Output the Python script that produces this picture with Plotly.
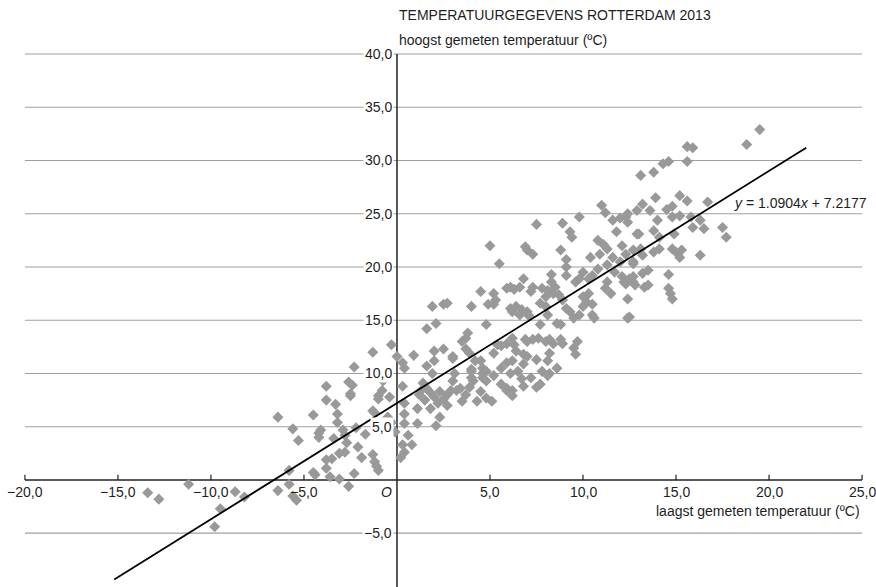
import plotly.graph_objects as go

# (laagst, hoogst) day values
meetpunten = [
    (-13.4,-1.2),(-12.8,-1.8),(-11.2,-0.4),(-8.7,-1.1),(-8.2,-1.6),(-9.5,-2.7),(-9.8,-4.4),
    (-5.8,0.9),(-5.8,-0.4),(-6.4,-1.0),(-5.6,-1.5),(-5.4,-1.9),(-4.5,0.7),(-4.4,0.5),(-3.8,1.1),
    (-3.8,1.9),(-3.5,2.0),(-3.6,0.3),(-3.1,0.1),(-3.1,2.5),(-2.8,2.6),(-2.6,-0.6),(-2.3,0.6),
    (-1.9,2.1),(-1.3,2.4),(-1.2,1.7),(-1.1,1.3),(-1.0,0.9),(0.2,2.1),(0.4,2.6),
    (-6.4,5.9),(-5.6,4.8),(-5.3,3.7),
    (-4.5,6.1),(-3.8,8.8),(-3.8,7.5),(-3.3,7.1),(-3.2,6.2),(-3.2,5.4),(-4.1,4.7),(-4.2,4.0),
    (-2.9,4.7),(-2.8,4.2),(-3.4,3.9),(-2.7,3.5),(-2.5,7.9),(-2.6,9.2),(-2.4,8.9),(-2.2,4.9),
    (-2.1,3.1),(-1.7,4.3),(-1.2,6.3),(-1.0,7.9),(-0.8,8.4),(-0.4,7.8),(-0.5,5.9),(-0.3,5.4),
    (-0.5,4.8),(-0.1,4.5),(-0.75,9.3),(0.3,8.8),(0.4,6.2),(0.4,5.3),(0.3,3.3),
    (-4.2,4.4),(-2.5,8.1),(-2.3,10.6),(-1.3,12.0),(-1.3,6.5),(-1.0,7.6),(-0.3,12.7),(0.0,11.6),
    (0.3,11.0),(0.4,10.5),(0.4,7.2),(0.6,4.2),(0.8,3.3),(0.9,11.7),(1.1,6.7),(1.1,5.3),
    (1.4,9.1),(1.3,8.4),(1.6,10.7),(1.6,14.2),(1.9,16.3),(2.1,14.7),(2.0,12.1),(2.0,11.2),(1.9,10.0),
    (1.2,8.0),(1.5,7.5),(1.8,8.2),(2.0,7.8),(2.3,8.3),(2.5,7.6),(2.7,8.0),(2.2,7.2),(1.6,8.6),(2.9,8.4),
    (1.8,6.7),(2.3,5.9),(2.1,5.1),(2.5,16.5),(2.7,16.6),(2.5,12.3),(3.0,11.6),(3.1,10.0),(3.0,9.3),
    (3.2,8.4),(3.5,7.4),(3.7,12.3),(3.5,13.0),(3.8,13.8),(3.9,11.9),(4.0,16.3),(4.0,10.4),(4.0,9.6),
    (3.9,8.7),(4.2,11.2),(4.5,11.2),(4.6,10.5),(4.8,14.6),(4.9,16.5),(4.5,17.7),
    (3.4,8.6),(5.9,8.6),(8.1,9.8),(2.7,7.0),(4.3,7.4),(4.8,7.7),(4.5,8.3),(3.7,8.0),(4.6,10.0),(4.8,9.3),
    (11.0,25.8),(11.2,25.1),(11.6,24.4),(12.4,25.0),(12.4,24.2),(12.0,24.6),(12.9,25.3),(12.9,23.1),
    (11.8,23.3),(9.8,24.7),(8.9,24.1),(7.5,24.0),(9.3,23.3),(9.4,22.8),(5.0,22.0),(6.9,21.9),
    (7.0,21.6),(7.3,21.2),(8.8,21.6),(9.1,20.7),(10.4,20.9),(10.8,22.5),(11.1,22.1),(11.3,21.7),
    (10.9,21.2),(11.6,20.9),(12.1,22.0),(12.3,21.2),(12.7,21.6),(12.0,20.5),(11.3,20.2),(10.8,19.8),
    (10.5,19.2),(10.3,18.9),(10.0,19.5),(9.8,18.9),(9.6,18.6),(9.1,20.0),(9.1,19.2),(8.3,19.3),
    (8.3,18.6),(8.5,18.1),(8.1,17.8),(8.4,17.5),(8.7,17.4),(8.9,16.9),(7.8,18.0),(8.0,17.2),
    (7.7,16.6),(8.0,16.3),(8.1,15.5),(8.6,14.7),(8.8,14.6),(7.7,14.6),(7.3,18.1),(7.2,17.7),
    (6.8,18.9),(6.6,18.1),(6.3,17.9),(6.1,18.1),(5.9,18.0),(5.2,17.5),(5.3,16.9),(5.5,20.3),
    (5.2,16.5),(6.1,16.1),(6.2,15.8),(6.4,16.3),(6.7,16.0),(6.6,15.5),(7.0,15.8),(7.1,15.4),
    (9.1,16.1),(9.3,15.8),(9.5,15.2),(9.8,15.5),(10.0,16.3),(10.2,16.7),(10.5,16.5),(10.5,15.5),
    (10.6,15.2),(10.3,17.5),(10.0,17.2),(11.3,18.6),(11.2,18.0),(11.5,17.5),(11.7,19.5),(12.1,19.1),
    (12.2,18.6),(12.5,18.9),(12.7,18.6),(12.4,17.0),(12.4,15.2),
    (3.0,11.4),(3.7,13.3),(5.2,11.9),(5.4,12.7),(5.6,12.6),(5.9,12.8),(6.2,13.3),(6.3,12.7),
    (6.4,12.1),(6.2,11.2),(5.9,11.0),(5.6,10.5),(6.8,10.9),(6.9,13.2),(7.0,13.0),(7.3,13.2),
    (7.6,13.3),(8.0,13.0),(8.2,13.2),(8.4,12.8),(8.8,13.2),(8.9,12.8),(9.7,13.0),(9.5,12.4),
    (9.6,11.8),(8.2,11.9),(8.1,11.2),(7.5,11.3),(7.8,10.2),(8.6,10.5),(8.2,10.0),(7.7,9.0),
    (7.2,9.6),(6.7,9.5),(6.1,10.0),(5.6,9.0),(5.9,8.4),(6.2,8.4),(6.2,7.9),(5.2,9.8),(4.6,9.6),
    (4.8,10.2),(5.1,7.4),(4.0,10.2),(4.1,9.3),(7.5,8.7),(6.8,8.8),(6.5,10.2),(6.8,11.8),(7.0,11.6),
    (19.5,32.9),(18.8,31.5),(15.6,31.3),(15.9,31.2),(15.6,29.9),(14.6,29.9),(14.3,29.7),(13.8,28.9),
    (13.1,28.6),(16.7,26.1),(15.2,26.7),(15.6,26.2),(13.9,26.5),(13.2,25.9),(13.6,25.3),(14.5,25.4),
    (14.8,25.7),(14.8,24.7),(15.2,24.8),(15.8,24.7),(16.3,24.4),(15.9,23.7),(16.5,23.6),(17.5,23.7),
    (17.7,22.8),(14.0,24.4),(13.0,23.1),(14.1,22.8),(14.9,23.1),(14.1,21.7),(13.8,21.4),(14.8,21.7),
    (15.0,21.4),(15.3,21.6),(16.3,21.1),(13.1,21.7),(12.7,20.5),(13.2,21.1),(13.5,19.7),(13.2,19.4),
    (12.7,19.1),(12.3,18.4),(12.8,18.3),(13.3,18.1),(13.5,18.3),(14.6,19.3),(14.6,18.0),(14.7,17.5),
    (14.8,17.0),(12.5,15.3),(15.2,20.9),(12.7,20.3),(12.3,24.7),(13.8,23.4),
]
laagst = [p[0] for p in meetpunten]
hoogst = [p[1] for p in meetpunten]

helling = 1.0904
snijpunt = 7.2177
lijn_x = [-15.2, 22.0]
lijn_y = [helling * v + snijpunt for v in lijn_x]

x_ticks = [-20, -15, -10, -5, 0, 5, 10, 15, 20, 25]
x_labels = ["\u221220,0", "\u221215,0", "\u221210,0", "\u22125,0", "<i>O</i>", "5,0", "10,0", "15,0", "20,0", "25,0"]
y_ticks = [40, 35, 30, 25, 20, 15, 10, 5, -5]
y_labels = ["40,0", "35,0", "30,0", "25,0", "20,0", "15,0", "10,0", "5,0", "\u22125,0"]

titel = "TEMPERATUURGEGEVENS ROTTERDAM 2013"
y_titel = "hoogst gemeten temperatuur (ºC)"
x_titel = "laagst gemeten temperatuur (ºC)"
vergelijking = "<i>y</i> = 1.0904<i>x</i> + 7.2177"

FONT = "Liberation Sans, Arial, Helvetica, sans-serif"
TXT = "#1e1e1e"
FS = 14

fig = go.Figure()
fig.add_trace(go.Scatter(x=laagst, y=hoogst, mode="markers",
                         marker=dict(symbol="diamond", size=8.5, color="#999999",
                                     line=dict(width=0)),
                         hoverinfo="skip"))
fig.add_trace(go.Scatter(x=lijn_x, y=lijn_y, mode="lines",
                         line=dict(color="black", width=1.8), hoverinfo="skip"))

shapes = []
for v in y_ticks:
    shapes.append(dict(type="line", xref="x", yref="y", x0=-20, x1=25, y0=v, y1=v,
                       line=dict(color="#a0a0a0", width=1.2), layer="below"))
shapes.append(dict(type="line", xref="x", yref="y", x0=-20, x1=25, y0=0, y1=0,
                   line=dict(color="#222", width=1.5), layer="below"))
shapes.append(dict(type="line", xref="x", yref="y", x0=0, x1=0, y0=40, y1=-10.2,
                   line=dict(color="#222", width=1.5), layer="below"))
for v in x_ticks:
    if v == 0:
        continue
    shapes.append(dict(type="line", xref="x", yref="y", x0=v, x1=v, y0=0, y1=0.5,
                       line=dict(color="#222", width=1.2), layer="below"))

ann = []
for v, t in zip(y_ticks, y_labels):
    ann.append(dict(x=0, y=v, xref="x", yref="y", text=t, showarrow=False,
                    xanchor="right", yanchor="middle", xshift=-3, bgcolor="white",
                    borderpad=1, font=dict(family=FONT, size=FS, color=TXT)))
for v, t in zip(x_ticks, x_labels):
    xv = -0.55 if v == 0 else v
    ann.append(dict(x=xv, y=0, xref="x", yref="y", text=t, showarrow=False,
                    xanchor="center", yanchor="middle", yshift=-12,
                    font=dict(family=FONT, size=FS, color=TXT)))
ann.append(dict(x=25, y=0, xref="x", yref="y", text=x_titel, showarrow=False,
                xanchor="right", yanchor="middle", yshift=-31,
                font=dict(family=FONT, size=FS, color=TXT)))
ann.append(dict(x=0, y=40, xref="x", yref="y", text=y_titel, showarrow=False,
                xanchor="left", yanchor="middle", yshift=14, xshift=0,
                font=dict(family=FONT, size=FS, color=TXT)))
ann.append(dict(x=0, y=40, xref="x", yref="y", text=titel, showarrow=False,
                xanchor="left", yanchor="middle", yshift=39, xshift=0,
                font=dict(family=FONT, size=FS, color=TXT)))
ann.append(dict(x=18.0, y=26.0, xref="x", yref="y", text=vergelijking, showarrow=False,
                xanchor="left", yanchor="middle",
                font=dict(family=FONT, size=FS, color=TXT)))

fig.update_layout(
    width=876, height=587,
    margin=dict(l=0, r=0, t=0, b=0),
    paper_bgcolor="white", plot_bgcolor="white",
    showlegend=False,
    xaxis=dict(range=[-21.34, 25.75], visible=False, fixedrange=True),
    yaxis=dict(range=[-10.05, 45.07], visible=False, fixedrange=True),
    shapes=shapes, annotations=ann,
)

fig.write_html("out.html")
